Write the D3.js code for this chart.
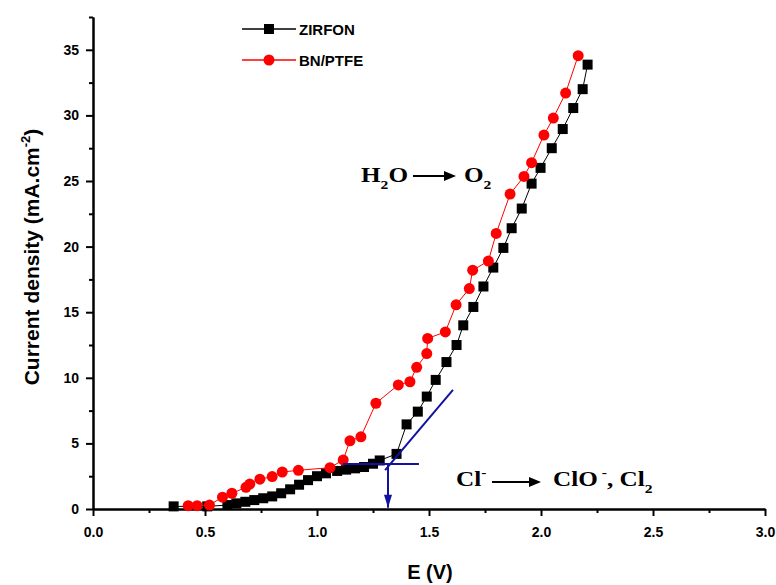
<!DOCTYPE html>
<html>
<head>
<meta charset="utf-8">
<script src="https://cdn.jsdelivr.net/npm/d3@7"></script>
<style>
  body { margin: 0; background: #fff; }
  text { font-family: "Liberation Sans", Arial, sans-serif; }
  .tick text { font-weight: bold; font-size: 14px; }
  .axis path, .axis line { stroke: #000; stroke-width: 2px; }
  .serif { font-family: "Liberation Serif", "Times New Roman", serif; font-weight: bold; font-size: 21px; }
</style>
</head>
<body>
<svg id="chart" width="776" height="585"></svg>
<script>
// ZIRFON (black squares)
var zirfonE = [0.36, 0.51, 0.60, 0.64, 0.68, 0.72, 0.76, 0.80, 0.84, 0.88, 0.92, 0.96, 1.00, 1.04, 1.09, 1.13, 1.17, 1.21, 1.25, 1.28,
  1.355, 1.40, 1.45, 1.49, 1.53, 1.578, 1.623, 1.653, 1.698, 1.743, 1.787, 1.832, 1.869, 1.914, 1.958, 1.998, 2.048, 2.097, 2.144, 2.186, 2.208];
var zirfonJ = [0.2, 0.2, 0.3, 0.43, 0.55, 0.68, 0.82, 0.96, 1.2, 1.5, 1.85, 2.2, 2.5, 2.72, 2.9, 3.0, 3.1, 3.2, 3.45, 3.7,
  4.2, 6.45, 7.42, 8.57, 9.84, 11.2, 12.5, 14.0, 15.4, 16.96, 18.4, 19.9, 21.4, 22.9, 24.8, 26.0, 27.5, 28.96, 30.56, 32.0, 33.87];

// BN/PTFE (red circles)
var bnE = [0.425, 0.465, 0.52, 0.578, 0.62, 0.683, 0.70, 0.745, 0.80, 0.845, 0.917, 1.058, 1.117, 1.147, 1.196, 1.263,
  1.363, 1.415, 1.445, 1.49, 1.494, 1.573, 1.621, 1.68, 1.695, 1.765, 1.80, 1.862, 1.924, 1.958, 2.013, 2.055, 2.11, 2.166];
var bnJ = [0.25, 0.25, 0.3, 0.9, 1.2, 1.65, 1.9, 2.27, 2.47, 2.82, 2.95, 3.15, 3.74, 5.2, 5.5, 8.06,
  9.46, 9.7, 10.8, 11.85, 13.0, 13.5, 15.56, 16.8, 18.2, 18.9, 21.0, 24.0, 25.35, 26.4, 28.5, 29.8, 31.7, 34.55];

// onset construction (blue)
var tangentLine = [[1.304, 2.97], [1.607, 9.08]];
var baseLine = [[1.116, 3.43], [1.455, 3.43]];
var onsetArrow = [[1.317, 3.43], [1.317, 0.1]];

var xTicks = [0, 0.5, 1.0, 1.5, 2.0, 2.5, 3.0];
var yTicks = [0, 5, 10, 15, 20, 25, 30, 35];

var svg = d3.select("#chart");

var x = d3.scaleLinear().domain([0, 3]).range([93, 765]);
var y = d3.scaleLinear().domain([0, 37.5]).range([509, 17]);

// minor ticks
svg.append("g")
  .attr("class", "axis")
  .attr("transform", "translate(0,509)")
  .call(d3.axisBottom(x).tickValues(d3.range(0.25, 3, 0.5)).tickSize(4).tickSizeOuter(0).tickFormat(""));
svg.append("g")
  .attr("class", "axis")
  .attr("transform", "translate(93,0)")
  .call(d3.axisLeft(y).tickValues(d3.range(2.5, 38, 5)).tickSize(4).tickSizeOuter(0).tickFormat(""));

// major ticks
svg.append("g")
  .attr("class", "axis")
  .attr("transform", "translate(0,509)")
  .call(d3.axisBottom(x).tickValues(xTicks).tickSize(7).tickSizeOuter(0).tickPadding(11).tickFormat(d3.format(".1f")));
svg.append("g")
  .attr("class", "axis")
  .attr("transform", "translate(93,0)")
  .call(d3.axisLeft(y).tickValues(yTicks).tickSize(7).tickSizeOuter(0).tickPadding(7).tickFormat(d3.format("d")));

// axis titles
svg.append("text")
  .attr("x", 430)
  .attr("y", 579)
  .attr("text-anchor", "middle")
  .style("font-weight", "bold")
  .style("font-size", "20px")
  .text("E (V)");

var yt = svg.append("text")
  .attr("transform", "translate(39,257) rotate(-90)")
  .attr("text-anchor", "middle")
  .style("font-weight", "bold")
  .style("font-size", "21px");
yt.append("tspan").text("Current density (mA.cm");
yt.append("tspan").attr("dy", -9).style("font-size", "13px").text("-2");
yt.append("tspan").attr("dy", 9).text(")");

var line = d3.line().x(function (d) { return x(d[0]); }).y(function (d) { return y(d[1]); });

var zirfon = zirfonE.map(function (e, i) { return [e, zirfonJ[i]]; });
var bn = bnE.map(function (e, i) { return [e, bnJ[i]]; });

// series
svg.append("path").datum(zirfon).attr("d", line)
  .attr("fill", "none").attr("stroke", "#000").attr("stroke-width", 1);
svg.selectAll(".sq").data(zirfon).enter().append("rect")
  .attr("class", "sq")
  .attr("x", function (d) { return x(d[0]) - 5; })
  .attr("y", function (d) { return y(d[1]) - 5; })
  .attr("width", 10).attr("height", 10)
  .attr("fill", "#000");

svg.append("path").datum(bn).attr("d", line)
  .attr("fill", "none").attr("stroke", "#ff0000").attr("stroke-width", 1);
svg.selectAll(".ci").data(bn).enter().append("circle")
  .attr("class", "ci")
  .attr("cx", function (d) { return x(d[0]); })
  .attr("cy", function (d) { return y(d[1]); })
  .attr("r", 5.5)
  .attr("fill", "#ff0000");

// blue construction
var blue = "#1212a0";
[tangentLine, baseLine, onsetArrow].forEach(function (seg) {
  svg.append("path").datum(seg).attr("d", line)
    .attr("stroke", blue).attr("stroke-width", 2).attr("fill", "none");
});
var tip = onsetArrow[1];
svg.append("path")
  .attr("d", "M" + (x(tip[0]) - 4) + "," + (y(tip[1]) - 13) + "L" + (x(tip[0]) + 4) + "," + (y(tip[1]) - 13) + "L" + x(tip[0]) + "," + y(tip[1]) + "Z")
  .attr("fill", blue);

// legend
var legend = [
  { name: "ZIRFON", color: "#000", shape: "square", y: 29 },
  { name: "BN/PTFE", color: "#ff0000", shape: "circle", y: 60 }
];
legend.forEach(function (l) {
  svg.append("line").attr("x1", 242).attr("x2", 296).attr("y1", l.y).attr("y2", l.y)
    .attr("stroke", l.color).attr("stroke-width", 1.5);
  if (l.shape === "square") {
    svg.append("rect").attr("x", 264).attr("y", l.y - 5).attr("width", 10).attr("height", 10).attr("fill", l.color);
  } else {
    svg.append("circle").attr("cx", 269).attr("cy", l.y).attr("r", 5.5).attr("fill", l.color);
  }
  svg.append("text").attr("x", 299).attr("y", l.y + 6)
    .style("font-weight", "bold").style("font-size", "15px").text(l.name);
});

// reaction annotations
function arrow(x1, x2, yy) {
  svg.append("line").attr("x1", x1).attr("x2", x2 - 8).attr("y1", yy).attr("y2", yy)
    .attr("stroke", "#000").attr("stroke-width", 2);
  svg.append("path").attr("d", "M" + (x2 - 12) + "," + (yy - 5) + "L" + x2 + "," + yy + "L" + (x2 - 12) + "," + (yy + 5) + "Z")
    .attr("fill", "#000");
}
function label(px, py) {
  return svg.append("text").attr("class", "serif")
    .attr("transform", "translate(" + px + "," + py + ") scale(1.2,1)");
}

var t1 = label(361, 182);
t1.append("tspan").text("H");
t1.append("tspan").attr("dy", 7).style("font-size", "13px").text("2");
t1.append("tspan").attr("dy", -7).text("O");
arrow(413, 456, 176);
var t2 = label(464, 182);
t2.append("tspan").text("O");
t2.append("tspan").attr("dy", 7).style("font-size", "13px").text("2");

var t3 = label(456, 486);
t3.append("tspan").text("Cl");
t3.append("tspan").attr("dy", -9).style("font-size", "13px").text("-");
arrow(492, 541, 482);
var t4 = label(553, 486);
t4.append("tspan").text("ClO");
t4.append("tspan").attr("dy", -9).style("font-size", "13px").text(" -");
t4.append("tspan").attr("dy", 9).text(", Cl");
t4.append("tspan").attr("dy", 7).style("font-size", "13px").text("2");
</script>
</body>
</html>
